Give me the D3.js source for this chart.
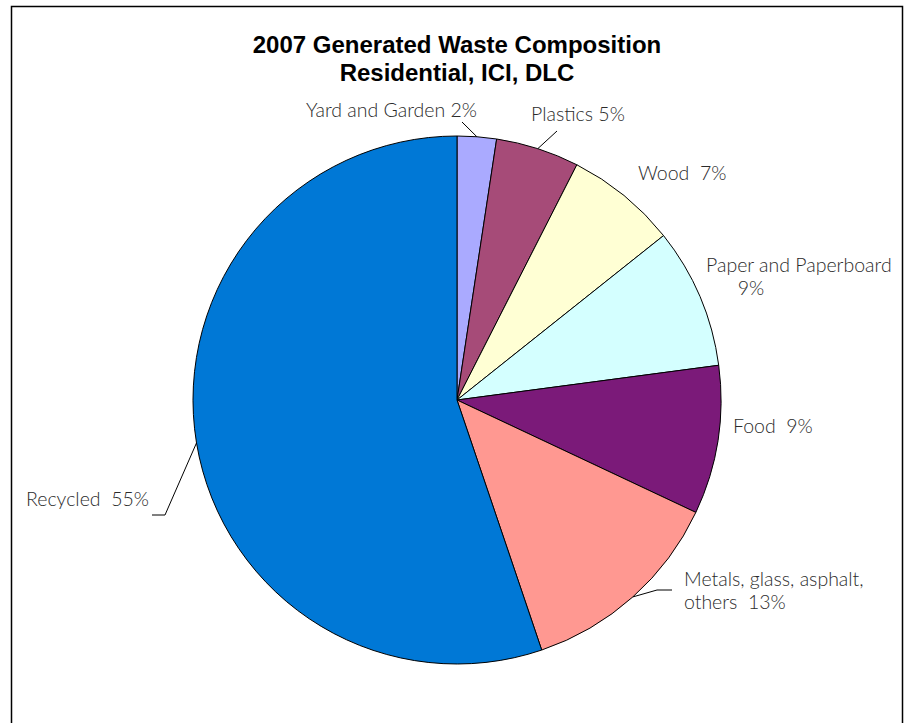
<!DOCTYPE html>
<html>
<head>
<meta charset="utf-8">
<script src="https://cdn.jsdelivr.net/npm/d3@7"></script>
<style>
  body { margin: 0; background: #fff; }
  svg { display: block; }
</style>
</head>
<body>
<div id="chart"></div>
<script>
// slice data, clockwise from 12 o'clock
const categories = ["Yard and Garden", "Plastics", "Wood", "Paper and Paperboard", "Food", "Metals, glass, asphalt, others", "Recycled"];
const shares = [2.4, 5.1, 6.8, 8.6, 9.1, 12.8, 55.2];
const sliceColors = ["#aaaaff", "#a64b78", "#ffffd4", "#d4ffff", "#7b1a79", "#ff9891", "#0078d6"];
// label text lines (percent appended from shares)
const labelLines = [
    ["Yard and Garden {p}"],
    ["Plastics {p}"],
    ["Wood  {p}"],
    ["Paper and Paperboard", "      {p}"],
    ["Food  {p}"],
    ["Metals, glass, asphalt,", "others  {p}"],
    ["Recycled  {p}"]
];
const titleLines = ["2007 Generated Waste Composition", "Residential, ICI, DLC"];

const width = 904, height = 723;
const cx = 457, cy = 400, radius = 264;

// where each label sits (text start, first baseline) and leader line ends
const labelLayout = [
    { x: 306, y: 117, leader: [[462, 122]] },
    { x: 531, y: 121, leader: [[557, 131]] },
    { x: 638, y: 180, leader: null },
    { x: 706, y: 272, leader: null },
    { x: 733, y: 433, leader: null },
    { x: 684, y: 586, leader: [[657, 590], [672, 590]] },
    { x: 26, y: 506, leader: [[165, 515], [152, 515]] }
];

const svg = d3.select("#chart")
    .append("svg")
    .attr("width", width)
    .attr("height", height);

// chart area border
svg.append("rect")
    .attr("x", 11.5)
    .attr("y", 6.5)
    .attr("width", 891)
    .attr("height", 740)
    .attr("fill", "none")
    .attr("stroke", "#000")
    .attr("stroke-width", 1.5);

svg.selectAll(".title")
    .data(titleLines)
    .join("text")
    .attr("class", "title")
    .attr("x", cx)
    .attr("y", (d, i) => 53 + i * 28)
    .attr("text-anchor", "middle")
    .attr("font-family", "Liberation Sans, Arial, sans-serif")
    .attr("font-weight", "bold")
    .attr("font-size", "24px")
    .attr("fill", "#000")
    .text(d => d);

const pie = d3.pie().sort(null).value(d => d);
const arcs = pie(shares);
const arc = d3.arc().innerRadius(0).outerRadius(radius);

const g = svg.append("g").attr("transform", `translate(${cx},${cy})`);

g.selectAll("path")
    .data(arcs)
    .join("path")
    .attr("d", arc)
    .attr("fill", (d, i) => sliceColors[i])
    .attr("stroke", "#000")
    .attr("stroke-width", 1);

// leader lines start at the slice's mid angle on the rim
arcs.forEach((a, i) => {
    const lay = labelLayout[i];
    if (!lay.leader) return;
    const mid = (a.startAngle + a.endAngle) / 2;
    const start = [cx + radius * Math.sin(mid), cy - radius * Math.cos(mid)];
    svg.append("path")
        .attr("d", d3.line()([start, ...lay.leader]))
        .attr("fill", "none")
        .attr("stroke", "#000")
        .attr("stroke-width", 1);
});

const labels = svg.selectAll(".lbl")
    .data(arcs)
    .join("text")
    .attr("class", "lbl")
    .attr("x", (d, i) => labelLayout[i].x)
    .attr("y", (d, i) => labelLayout[i].y)
    .attr("font-family", "Lato, sans-serif")
    .attr("font-weight", 300)
    .attr("font-size", "19.5px")
    .attr("fill", "#2b2b2b")
    .attr("xml:space", "preserve")
    .style("white-space", "pre");

labels.each(function(d, i) {
    const pct = Math.round(shares[i]) + "%";
    d3.select(this).selectAll("tspan")
        .data(labelLines[i])
        .join("tspan")
        .attr("x", labelLayout[i].x)
        .attr("dy", (t, j) => j === 0 ? 0 : 23)
        .text(t => t.replace("{p}", pct));
});
</script>
</body>
</html>
